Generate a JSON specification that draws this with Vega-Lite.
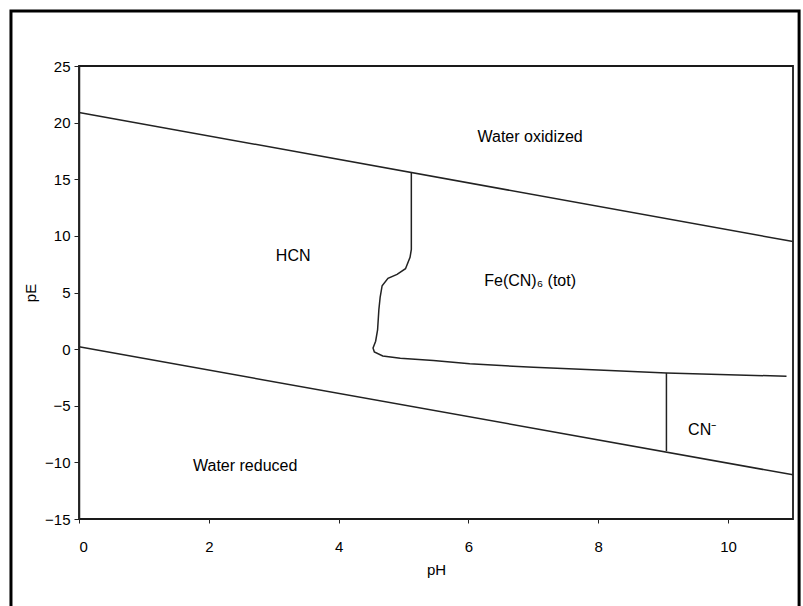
{
  "$schema": "https://vega.github.io/schema/vega-lite/v6.json",
  "autosize": "none",
  "width": 714,
  "height": 453,
  "padding": {"left": 79, "top": 66, "right": 10, "bottom": 87},
  "background": "white",
  "config": {
    "view": {"stroke": "#1a1a1a", "strokeWidth": 1.8},
    "font": "Liberation Sans",
    "axis": {
      "labelFont": "Liberation Sans",
      "titleFont": "Liberation Sans",
      "labelFontSize": 15,
      "titleFontSize": 15,
      "labelColor": "#000",
      "titleColor": "#000",
      "titleFontWeight": "normal",
      "tickColor": "#222",
      "domainColor": "#222",
      "grid": false
    }
  },
  "datasets": {
    "lines": [
      {"series": "upper", "i": 0, "pH": 0, "pE": 20.9},
      {"series": "upper", "i": 1, "pH": 11, "pE": 9.5},
      {"series": "lower", "i": 0, "pH": 0, "pE": 0.2},
      {"series": "lower", "i": 1, "pH": 11, "pE": -11.1},
      {"series": "curve", "i": 0, "pH": 5.12, "pE": 15.6},
      {"series": "curve", "i": 1, "pH": 5.12, "pE": 8.8},
      {"series": "curve", "i": 2, "pH": 5.1, "pE": 8.1},
      {"series": "curve", "i": 3, "pH": 5.03, "pE": 7.1},
      {"series": "curve", "i": 4, "pH": 4.9, "pE": 6.6},
      {"series": "curve", "i": 5, "pH": 4.76, "pE": 6.25},
      {"series": "curve", "i": 6, "pH": 4.67, "pE": 5.6},
      {"series": "curve", "i": 7, "pH": 4.64, "pE": 4.6},
      {"series": "curve", "i": 8, "pH": 4.62, "pE": 3.5},
      {"series": "curve", "i": 9, "pH": 4.6, "pE": 1.7},
      {"series": "curve", "i": 10, "pH": 4.57, "pE": 0.7},
      {"series": "curve", "i": 11, "pH": 4.53, "pE": 0.1},
      {"series": "curve", "i": 12, "pH": 4.55, "pE": -0.25},
      {"series": "curve", "i": 13, "pH": 4.68, "pE": -0.6},
      {"series": "curve", "i": 14, "pH": 4.95, "pE": -0.8},
      {"series": "curve", "i": 15, "pH": 5.46, "pE": -1.0},
      {"series": "curve", "i": 16, "pH": 6.02, "pE": -1.3},
      {"series": "curve", "i": 17, "pH": 7.0, "pE": -1.6},
      {"series": "curve", "i": 18, "pH": 8.0, "pE": -1.85},
      {"series": "curve", "i": 19, "pH": 9.05, "pE": -2.1},
      {"series": "curve", "i": 20, "pH": 10.9, "pE": -2.4},
      {"series": "cn", "i": 0, "pH": 9.05, "pE": -2.1},
      {"series": "cn", "i": 1, "pH": 9.05, "pE": -9.0}
    ],
    "labels": [
      {"text": "Water oxidized", "pH": 6.95, "pE": 18.7},
      {"text": "HCN", "pH": 3.3, "pE": 8.2},
      {"text": "Fe(CN)₆ (tot)", "pH": 6.95, "pE": 6.0},
      {"text": "CN⁻", "pH": 9.6, "pE": -7.1},
      {"text": "Water reduced", "pH": 2.56, "pE": -10.3}
    ]
  },
  "layer": [
    {
      "data": {"name": "lines"},
      "mark": {"type": "line", "color": "#222", "strokeWidth": 1.5, "interpolate": "linear"},
      "encoding": {
        "x": {
          "field": "pH", "type": "quantitative",
          "scale": {"domain": [0, 11], "nice": false, "zero": false},
          "axis": {"title": "pH", "values": [0, 2, 4, 6, 8, 10], "format": "d", "domain": false, "tickSize": 4, "labelPadding": 16, "titlePadding": 8}
        },
        "y": {
          "field": "pE", "type": "quantitative",
          "scale": {"domain": [-15, 25], "nice": false, "zero": false},
          "axis": {"title": "pE", "values": [-15, -10, -5, 0, 5, 10, 15, 20, 25], "format": "d", "tickSize": 5, "labelPadding": 4, "titlePadding": 6, "domainWidth": 1.5}
        },
        "detail": {"field": "series", "type": "nominal"},
        "order": {"field": "i", "type": "quantitative"}
      }
    },
    {
      "data": {"name": "labels"},
      "mark": {"type": "text", "font": "Liberation Sans", "fontSize": 16, "color": "#000", "align": "center", "baseline": "middle"},
      "encoding": {
        "x": {"field": "pH", "type": "quantitative"},
        "y": {"field": "pE", "type": "quantitative"},
        "text": {"field": "text", "type": "nominal"}
      }
    },
    {
      "data": {"values": [{}]},
      "mark": {"type": "rect", "filled": false, "stroke": "black", "strokeWidth": 3, "clip": false},
      "encoding": {
        "x": {"datum": -1.048, "type": "quantitative"},
        "x2": {"datum": 11.094},
        "y": {"datum": 29.86, "type": "quantitative"},
        "y2": {"datum": -23.0}
      }
    }
  ]
}
